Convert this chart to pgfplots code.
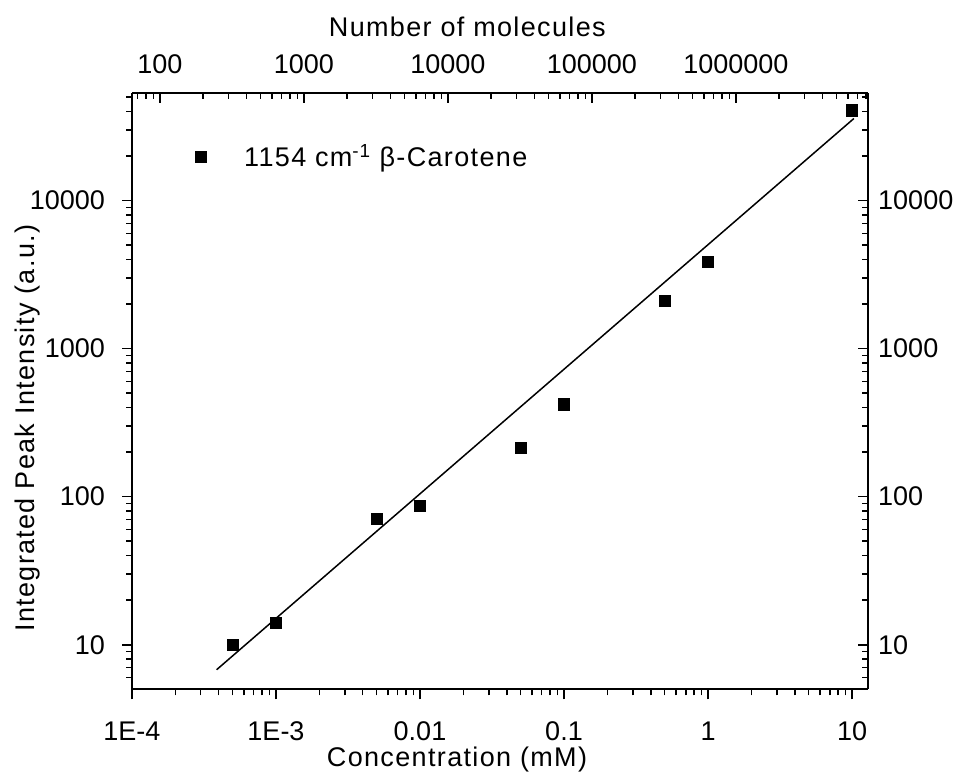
\documentclass[border=0pt]{standalone}
\usepackage{fontspec}
\setmainfont{Liberation Sans}
\newfontfamily\widefont{Liberation Sans}[LetterSpace=5]
\usepackage{pgfplots}
\pgfplotsset{compat=1.18}

\newcommand{\lbl}{\widefont\fontsize{27}{32}\selectfont}
\newcommand{\tck}{\fontsize{27}{32}\selectfont}

\begin{document}
\begin{tikzpicture}
% concentration axis (bottom / left)
\begin{axis}[
  scale only axis, width=736pt, height=596pt,
  xmode=log, ymode=log,
  xmin=1e-4, xmax=12.91, ymin=5, ymax=53000,
  axis line style={line width=2pt},
  every tick/.style={black, line width=1.6pt},
  major tick length=10pt, minor tick length=6pt,
  ticklabel style={font=\tck, inner sep=0pt},
  axis x line*=bottom, axis y line*=left, tick align=outside,
  xtick={1e-4,1e-3,0.01,0.1,1,10},
  xticklabels={1E-4,1E-3,0.01,0.1,1,10},
  minor xtick={2e-4,3e-4,4e-4,5e-4,6e-4,7e-4,8e-4,9e-4,
    2e-3,3e-3,4e-3,5e-3,6e-3,7e-3,8e-3,9e-3,
    0.02,0.03,0.04,0.05,0.06,0.07,0.08,0.09,
    0.2,0.3,0.4,0.5,0.6,0.7,0.8,0.9,
    2,3,4,5,6,7,8,9},
  ytick={10,100,1000,10000},
  yticklabels={10,100,1000,10000},
  minor ytick={6,7,8,9,20,30,40,50,60,70,80,90,200,300,400,500,600,700,800,900,
    2000,3000,4000,5000,6000,7000,8000,9000,20000,30000,40000,50000},
  xticklabel style={anchor=base, yshift=-41.4pt},
  yticklabel shift=17pt,
  xlabel={Concentration (mM)},
  ylabel={Integrated Peak Intensity (a.u.)},
  xlabel style={at={(rel axis cs:0.4416,-0.1299)}, anchor=base, font=\lbl},
  ylabel style={at={(rel axis cs:-0.1318,0.438)}, anchor=base, font=\lbl},
  legend style={at={(rel axis cs:0.0856,0.894)}, anchor=west, draw=none, fill=none,
    font=\lbl, inner sep=0pt, outer sep=0pt, column sep=36pt},
  legend cell align=left,
]
\addplot[only marks, mark=square*, mark size=5.6pt, mark options={line width=0.4pt, fill=black}]
  coordinates {(5e-4,10)(1e-3,14)(5e-3,71)(0.01,87)(0.05,215)(0.1,421)(0.5,2100)(1,3850)(10,40700)};
\addlegendentry{1154 cm\textsuperscript{-1} β-Carotene}
% linear fit in log-log space
\addplot[line width=1.5pt, no marks, black] coordinates {(3.87e-4,6.78)(10.3,35800)};
\end{axis}
% number-of-molecules axis (top / right)
\begin{axis}[
  scale only axis, width=736pt, height=596pt,
  xmode=log, ymode=log,
  xmin=64, xmax=8.262e6, ymin=5, ymax=53000,
  axis line style={line width=2pt},
  every tick/.style={black, line width=1.6pt},
  major tick length=10pt, minor tick length=6pt,
  ticklabel style={font=\tck, inner sep=0pt},
  axis x line*=top, axis y line*=right, tick align=inside,
  xtick={100,1000,10000,100000,1000000},
  xticklabels={100,1000,10000,100000,1000000},
  minor xtick={70,80,90,200,300,400,500,600,700,800,900,
    2000,3000,4000,5000,6000,7000,8000,9000,
    20000,30000,40000,50000,60000,70000,80000,90000,
    200000,300000,400000,500000,600000,700000,800000,900000,
    2000000,3000000,4000000,5000000,6000000,7000000,8000000},
  ytick={10,100,1000,10000},
  yticklabels={10,100,1000,10000},
  minor ytick={6,7,8,9,20,30,40,50,60,70,80,90,200,300,400,500,600,700,800,900,
    2000,3000,4000,5000,6000,7000,8000,9000,20000,30000,40000,50000},
  xticklabel style={anchor=base, yshift=20pt},
  yticklabel shift=10pt,
  xlabel={Number of molecules},
  xlabel style={at={(rel axis cs:0.4556,1.0961)}, anchor=base, font=\lbl},
]
\addplot[draw=none] coordinates {(100,10)};
\end{axis}
\path[use as bounding box] (-132pt,-82.7pt) rectangle (831pt,689.3pt);
\end{tikzpicture}
\end{document}
